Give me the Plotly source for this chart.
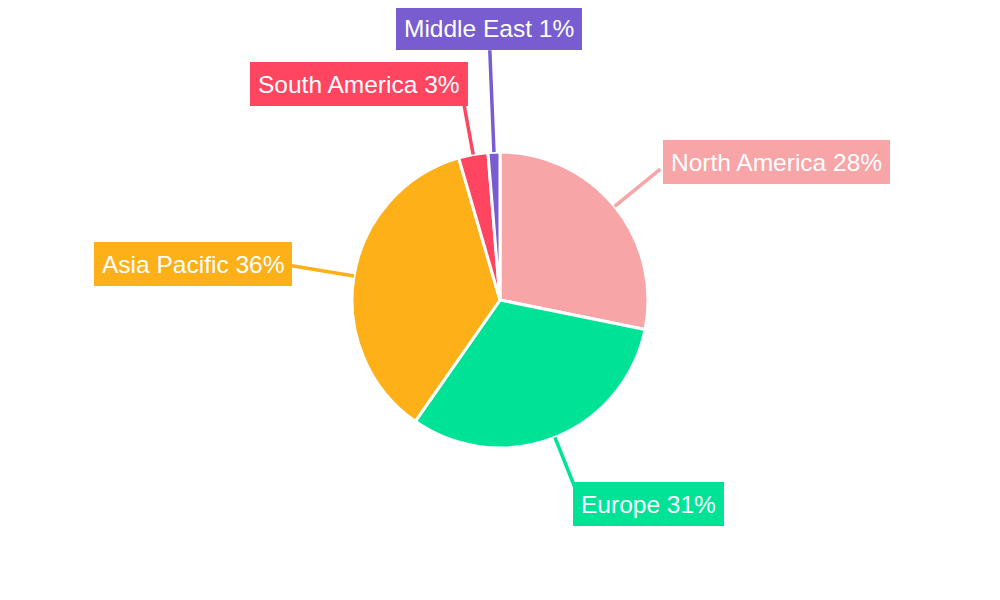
import math
import plotly.graph_objects as go

# ---- data ----
regions = ["North America", "Europe", "Asia Pacific", "South America", "Middle East"]
shares = [28.2, 31.5, 35.8, 3.2, 1.3]
pct_labels = ["28%", "31%", "36%", "3%", "1%"]
colors = ["#F8A5A7", "#00E396", "#FEB019", "#FF4560", "#775DD0"]

# ---- layout helpers (pixels in a 1000x600 canvas) ----
W, H = 1000, 600
OFF = 8                                            # page body offset compensation
CX, CY, R = 500, 300, 148
label_radius = [207, 203, 211, 198, 250]          # leader line end radius (px)
box_centers = [(776, 162), (648, 504), (193, 264), (359, 84), (489, 28)]

def px(x):
    return (x - OFF) / W

def py(y):
    return 1 - (y - OFF) / H

fig = go.Figure(go.Pie(
    labels=regions,
    values=shares,
    sort=False,
    direction="clockwise",
    rotation=0,
    textinfo="none",
    hoverinfo="label+percent",
    marker=dict(colors=colors, line=dict(color="white", width=3)),
    domain=dict(x=[px(CX - R - 300), px(CX + R + 300)], y=[py(CY + R), py(CY - R)]),
    showlegend=False,
))

total = sum(shares)
cum = 0.0
shapes = []
annotations = []
for i, (name, v) in enumerate(zip(regions, shares)):
    mid = (cum + v / 2) / total * 2 * math.pi
    cum += v
    sx, sy = math.sin(mid), -math.cos(mid)
    x0, y0 = CX + R * sx, CY + R * sy
    x1, y1 = CX + label_radius[i] * sx, CY + label_radius[i] * sy
    shapes.append(dict(type="line", xref="paper", yref="paper",
                       x0=px(x0), y0=py(y0), x1=px(x1), y1=py(y1),
                       line=dict(color=colors[i], width=3.5)))
    bx, by = box_centers[i]
    annotations.append(dict(
        xref="paper", yref="paper", x=px(bx), y=py(by),
        xanchor="center", yanchor="middle",
        text=f"{name} {pct_labels[i]}", showarrow=False,
        font=dict(family="Liberation Sans, Arial, sans-serif", size=24.5, color="white"),
        bgcolor=colors[i], borderpad=8, borderwidth=0, height=28,
    ))

fig.update_layout(
    width=W, height=H,
    margin=dict(l=0, r=0, t=0, b=0),
    paper_bgcolor="white",
    plot_bgcolor="white",
    shapes=shapes,
    annotations=annotations,
)

fig.write_html("out.html")
